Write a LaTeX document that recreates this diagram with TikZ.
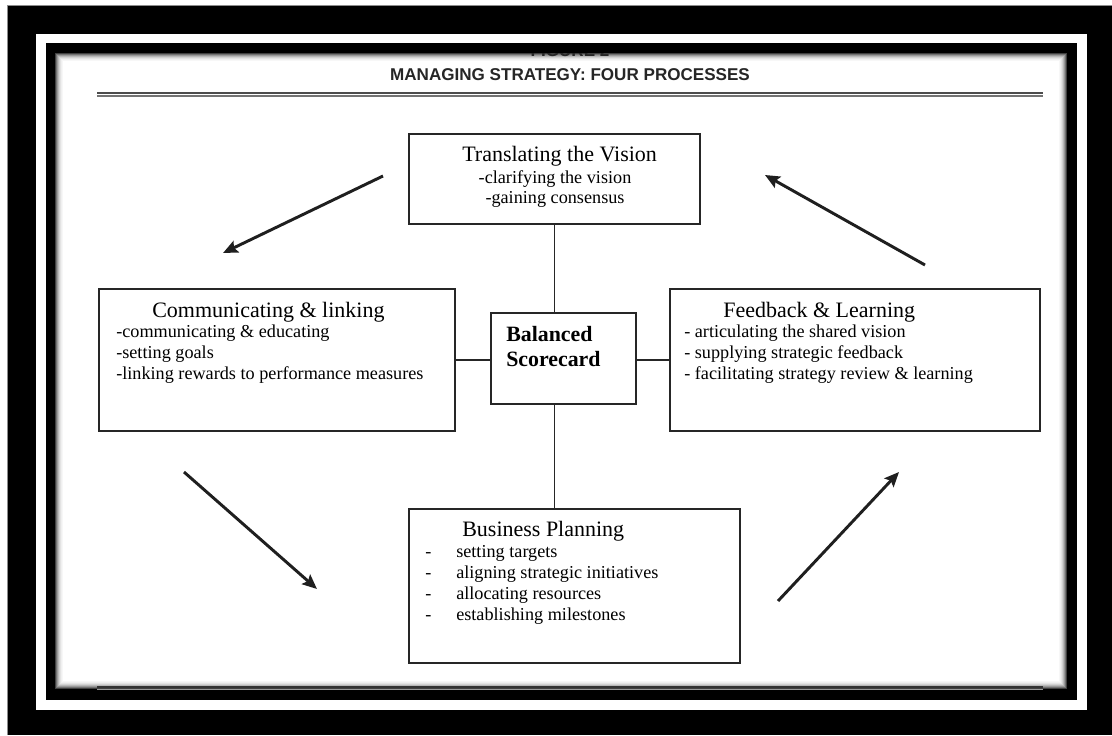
\documentclass[tikz,border=0pt]{standalone}
\usepackage{fontspec}
\setmainfont{Liberation Serif}
\newfontfamily\hsans{Liberation Sans}
\usetikzlibrary{arrows.meta,fit}
\begin{document}
\begin{tikzpicture}[x=0.75pt,y=-0.75pt,
  box/.style={draw=black!85, line width=0.9pt, inner sep=0pt},
  ttl/.style={font=\fontsize{16.5}{20}\selectfont, inner sep=0pt, anchor=base west},
  itm/.style={font=\fontsize{13.65}{15.75}\selectfont, inner sep=0pt, anchor=base west},
  bsc/.style={font=\fontsize{16.4}{20}\selectfont\bfseries, inner sep=0pt, anchor=base west},
  head/.style={font=\hsans\bfseries\fontsize{12.8}{15}\selectfont, inner sep=0pt, anchor=base, text=black!85},
  flow/.style={line width=2.2pt, draw=black!88, -{Stealth[length=11pt,width=9.5pt,inset=2pt]}},
  link/.style={line width=0.9pt, draw=black!85}]
\useasboundingbox (0,0) rectangle (1112,735);
% frames
\fill[white] (0,0) rectangle (1112,735);
\fill[black] (7,6) rectangle (1112,735);
\draw[black!45, line width=0.75pt] (7,735) -- (7,6) -- (1112,6);
\fill[white] (36,34) rectangle (1087,710);
\fill[black] (46,43) rectangle (1077,700);
\fill[white] (55,53) rectangle (1067,689);
\foreach \i/\c in {0/75,1/55,2/40,3/28,4/18,5/11,6/6,7/3}
  \draw[black!\c, line width=0.75pt] (55.5+\i,53.5+\i) rectangle (1066.5-\i,688.5-\i);
% heading
\node[head] (fig) at (570,57) {FIGURE 2};
\fill[black] (46,43) rectangle (1077,53);
\node[head] (hd) at (570,80) {MANAGING STRATEGY: FOUR PROCESSES};
\draw[black!70, line width=0.8pt] (97,93) -- (1043,93);
\draw[black!55, line width=1pt] (97,96) -- (1043,96);
\draw[black!80, line width=1.5pt] (97,687) -- (1043,687);
\draw[black!40, line width=0.75pt] (97,689.5) -- (1043,689.5);
% boxes
\node[box, fit={(409,134) (700,224)}] (vis) {};
\node[box, fit={(99,289) (455,431)}] (com) {};
\node[box, fit={(491,313) (636,404)}] (bal) {};
\node[box, fit={(670,289) (1040,431)}] (fb) {};
\node[box, fit={(409,509) (740,663)}] (bp) {};
% texts
\node[ttl] (visT) at (462,161) {Translating the Vision};
\node[itm, anchor=base] (vis1) at (555,183) {-clarifying the vision};
\node[itm, anchor=base] (vis2) at (555,203) {-gaining consensus};
\node[ttl] (comT) at (152,317) {Communicating \& linking};
\node[itm] (com1) at (116,337) {-communicating \& educating};
\node[itm] (com2) at (116,358) {-setting goals};
\node[itm] (com3) at (116,379) {-linking rewards to performance measures};
\node[bsc] (bal1) at (506,341) {Balanced};
\node[bsc] (bal2) at (506,366) {Scorecard};
\node[ttl] (fbT) at (723,317) {Feedback \& Learning};
\node[itm] (fb1) at (684,337) {- articulating the shared vision};
\node[itm] (fb2) at (684,358) {- supplying strategic feedback};
\node[itm] (fb3) at (684,379) {- facilitating strategy review \& learning};
\node[ttl] (bpT) at (462,536) {Business Planning};
\foreach \n/\y/\t in {1/557/setting targets,2/578/aligning strategic initiatives,3/599/allocating resources,4/620/establishing milestones}{
  \node[itm] (bpd\n) at (425,\y) {-};
  \node[itm] (bp\n) at (456,\y) {\t};
}
% connectors
\draw[link] (vis.south) -- (vis.south |- bal.north);
\draw[link] (bal.south -| vis.south) -- (bp.north -| vis.south);
\draw[link] (com.east) -- (com.east -| bal.west);
\draw[link] (bal.east |- fb.west) -- (fb.west);
% arrows
\coordinate (a1s) at (383,176); \coordinate (a1e) at (223,253);
\coordinate (a2s) at (925,265); \coordinate (a2e) at (765,175);
\coordinate (a3s) at (184,472); \coordinate (a3e) at (317,589);
\coordinate (a4s) at (778,601); \coordinate (a4e) at (899,472);
\draw[flow] (a1s) -- (a1e);
\draw[flow] (a2s) -- (a2e);
\draw[flow] (a3s) -- (a3e);
\draw[flow] (a4s) -- (a4e);
\end{tikzpicture}
\end{document}
